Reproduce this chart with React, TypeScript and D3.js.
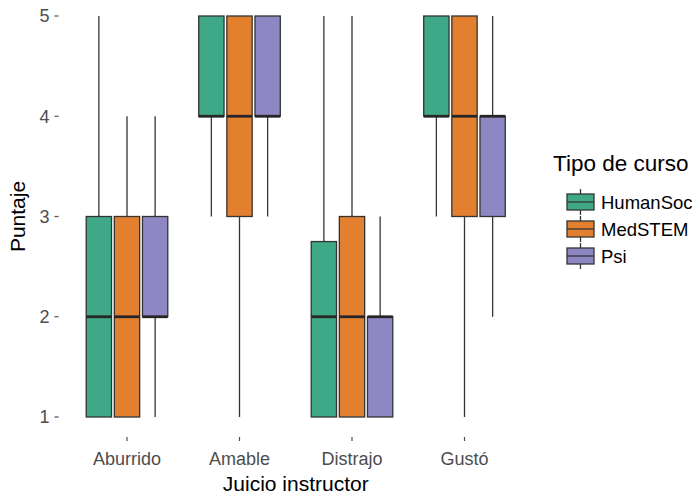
import React from 'react';
import * as d3 from 'd3';

// categories on x, course types as dodged groups
const categories = ["Aburrido", "Amable", "Distrajo", "Gustó"];
const groups = ["HumanSoc", "MedSTEM", "Psi"];
const colors = ["#3FA987", "#E3802F", "#8D87C3"];
const yTicks = [1, 2, 3, 4, 5];

// box stats per group, one value per category
const humanSocLow = [1, 3, 1, 3];
const humanSocQ1 = [1, 4, 1, 4];
const humanSocMed = [2, 4, 2, 4];
const humanSocQ3 = [3, 5, 2.75, 5];
const humanSocHigh = [5, 5, 5, 5];

const medStemLow = [1, 1, 1, 1];
const medStemQ1 = [1, 3, 1, 3];
const medStemMed = [2, 4, 2, 4];
const medStemQ3 = [3, 5, 3, 5];
const medStemHigh = [4, 5, 5, 5];

const psiLow = [1, 3, 1, 2];
const psiQ1 = [2, 4, 1, 3];
const psiMed = [2, 4, 2, 4];
const psiQ3 = [3, 5, 2, 4];
const psiHigh = [4, 5, 3, 5];

const stats = [
    { low: humanSocLow, q1: humanSocQ1, med: humanSocMed, q3: humanSocQ3, high: humanSocHigh },
    { low: medStemLow, q1: medStemQ1, med: medStemMed, q3: medStemQ3, high: medStemHigh },
    { low: psiLow, q1: psiQ1, med: psiMed, q3: psiQ3, high: psiHigh },
];

const font = "'Liberation Sans', Arial, sans-serif";
const lineColor = "#333333";

const App = () => {
    const width = 697;
    const height = 502;
    const panel = { left: 59.5, right: 532, top: -4, bottom: 437 };

    const xScale = d3.scalePoint<string>()
        .domain(categories)
        .range([panel.left, panel.right])
        .padding(0.6);

    const yScale = d3.scaleLinear()
        .domain([1, 5])
        .range([417, 16]);

    const step = xScale.step();
    const slot = (step * 0.75) / groups.length; // dodge slot per group
    const boxW = slot * 0.9; // dodge2 padding

    const boxes = [];
    categories.forEach((cat, ci) => {
        groups.forEach((g, gi) => {
            const s = stats[gi];
            const cx = xScale(cat) + (gi - 1) * slot;
            boxes.push({
                key: `${cat}-${g}`,
                cx,
                low: s.low[ci],
                q1: s.q1[ci],
                med: s.med[ci],
                q3: s.q3[ci],
                high: s.high[ci],
                fill: colors[gi],
            });
        });
    });

    const legendX = 567;
    const legendRows = [202, 229, 256];

    return (
        <div style={{ position: "absolute", left: 0, top: 0 }}>
            <svg width={width} height={height} style={{ display: "block", background: "#fff" }}>
                {/* whiskers first, then boxes on top */}
                {boxes.map(b => (
                    <g key={b.key}>
                        <line x1={b.cx} x2={b.cx} y1={yScale(b.high)} y2={yScale(b.q3)}
                            stroke={lineColor} strokeWidth={1.3} />
                        <line x1={b.cx} x2={b.cx} y1={yScale(b.q1)} y2={yScale(b.low)}
                            stroke={lineColor} strokeWidth={1.3} />
                        <rect x={b.cx - boxW / 2} width={boxW}
                            y={yScale(b.q3)} height={Math.max(0, yScale(b.q1) - yScale(b.q3))}
                            fill={b.fill} stroke={lineColor} strokeWidth={1.3} />
                        <line x1={b.cx - boxW / 2} x2={b.cx + boxW / 2}
                            y1={yScale(b.med)} y2={yScale(b.med)}
                            stroke="#262626" strokeWidth={2.8} />
                    </g>
                ))}

                {/* y axis ticks + labels */}
                {yTicks.map(t => (
                    <g key={t}>
                        <line x1={panel.left - 5} x2={panel.left - 1} y1={yScale(t)} y2={yScale(t)}
                            stroke="#4D4D4D" strokeWidth={1.2} />
                        <text x={panel.left - 10} y={yScale(t)} dy="0.36em" textAnchor="end"
                            fontFamily={font} fontSize={18} fill="#4D4D4D">{t}</text>
                    </g>
                ))}

                {/* x axis ticks + labels */}
                {categories.map(c => (
                    <g key={c}>
                        <line x1={xScale(c)} x2={xScale(c)} y1={panel.bottom} y2={panel.bottom + 4}
                            stroke="#4D4D4D" strokeWidth={1.2} />
                        <text x={xScale(c)} y={465} textAnchor="middle"
                            fontFamily={font} fontSize={18} fill="#4D4D4D">{c}</text>
                    </g>
                ))}

                <text x={(panel.left + panel.right) / 2} y={491} textAnchor="middle"
                    fontFamily={font} fontSize={21} fill="#000">Juicio instructor</text>
                <text transform={`translate(25, ${(panel.top + panel.bottom) / 2}) rotate(-90)`}
                    textAnchor="middle" fontFamily={font} fontSize={21} fill="#000">Puntaje</text>

                {/* legend */}
                <text x={553} y={171} fontFamily={font} fontSize={22.5} fill="#000">Tipo de curso</text>
                {groups.map((g, gi) => {
                    const cy = legendRows[gi];
                    const cx = legendX + 13.5;
                    return (
                        <g key={g}>
                            <line x1={cx} x2={cx} y1={cy - 13} y2={cy + 13} stroke={lineColor} strokeWidth={1.3} />
                            <rect x={legendX} width={27} y={cy - 8} height={16}
                                fill={colors[gi]} stroke={lineColor} strokeWidth={1.3} />
                            <line x1={legendX} x2={legendX + 27} y1={cy} y2={cy} stroke={lineColor} strokeWidth={1.3} />
                            <text x={601} y={cy} dy="0.36em" fontFamily={font} fontSize={18.5} fill="#000">{g}</text>
                        </g>
                    );
                })}
            </svg>
        </div>
    );
};

export default App;
